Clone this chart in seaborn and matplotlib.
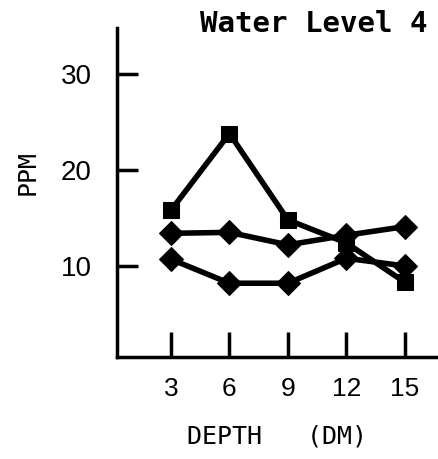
import pandas as pd
import numpy as np
import matplotlib
matplotlib.use("Agg")
import matplotlib.pyplot as plt
import seaborn as sns

# values
depth = [3, 6, 9, 12, 15]
ppm_square = [15.8, 23.8, 14.8, 12.4, 8.3]
ppm_diamond_up = [13.4, 13.5, 12.2, 13.2, 14.1]
ppm_diamond_low = [10.7, 8.2, 8.2, 10.8, 10.0]

series_names = ["A", "B", "C"]
df = pd.DataFrame({
    "depth": depth * 3,
    "ppm": ppm_square + ppm_diamond_up + ppm_diamond_low,
    "series": [s for s in series_names for _ in depth],
})

sns.set_style("white")
plt.rcParams["font.family"] = ["Liberation Sans", "DejaVu Sans"]
plt.rcParams["text.color"] = "black"
plt.rcParams["axes.labelcolor"] = "black"

fig = plt.figure(figsize=(4.38, 4.59), dpi=100)
ax = fig.add_axes([0.267, 0.222, 0.733, 0.717])

sns.lineplot(
    data=df, x="depth", y="ppm", hue="series", style="series",
    markers={"A": "s", "B": "D", "C": "D"}, dashes=False,
    palette=["black"] * 3, legend=False, ax=ax,
    linewidth=4, markersize=12, markeredgecolor="black",
)

ax.set_xlim(0.23, 16.7)
ax.set_ylim(0.5, 34.8)
ax.set_xticks(depth)
ax.set_yticks([10, 20, 30])

for side in ["top", "right"]:
    ax.spines[side].set_visible(False)
for side in ["left", "bottom"]:
    ax.spines[side].set_linewidth(2.5)
    ax.spines[side].set_color("black")

ax.tick_params(axis="x", bottom=True, direction="in", length=18, width=2.5, pad=14,
               labelsize=19, color="black", labelcolor="black")
ax.tick_params(axis="y", left=True, direction="in", length=15, width=2.5, pad=18,
               labelsize=20, color="black", labelcolor="black")

ax.set_xlabel("DEPTH   (DM)", fontsize=18, family="DejaVu Sans Mono", va="center")
ax.xaxis.set_label_coords(0.50, -0.24)
ax.set_ylabel("PPM", fontsize=18, family="DejaVu Sans Mono", va="center")
ax.yaxis.set_label_coords(-0.277, 0.56)
fig.text(0.975, 0.948, "Water Level 4", ha="right", va="center",
         fontsize=21, family="DejaVu Sans Mono", fontweight="bold")

fig.savefig("out.png", dpi=100, facecolor="white")
